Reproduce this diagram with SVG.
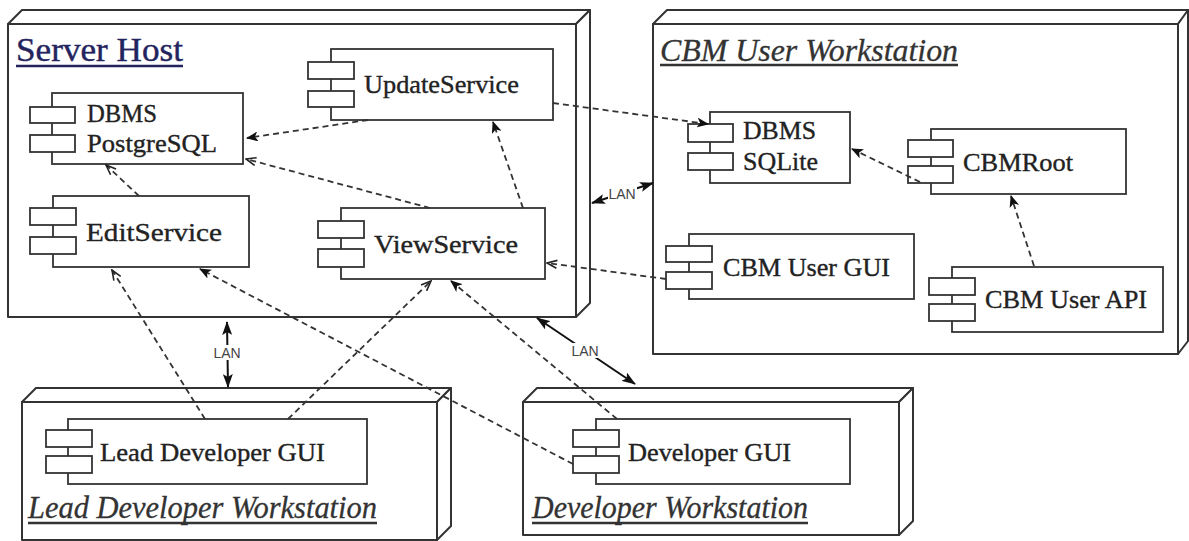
<svg xmlns="http://www.w3.org/2000/svg" width="1189" height="541" viewBox="0 0 1189 541">
<defs>
<style>
.box{fill:#fff;stroke:#333;stroke-width:2;stroke-linejoin:round}
.comp{fill:#fff;stroke:#333;stroke-width:1.8}
.lbl{font-family:"Liberation Serif","Times New Roman",serif;font-size:25px;fill:#222;stroke:#222;stroke-width:0.35}
.title{font-family:"Liberation Serif","Times New Roman",serif;font-size:31px;font-style:italic;fill:#333;stroke:#333;stroke-width:0.3}
.ul{stroke:#333;stroke-width:2.5}
.dep{fill:none;stroke:#333;stroke-width:1.8;stroke-dasharray:6 4}
.lan{fill:none;stroke:#111;stroke-width:2}
.lantxt{font-family:"Liberation Sans",Arial,sans-serif;font-size:14px;fill:#444;text-anchor:middle}
</style>
<marker id="open" viewBox="0 0 12 10" refX="11" refY="5" markerWidth="12" markerHeight="10" markerUnits="userSpaceOnUse" orient="auto">
<path d="M1,1 L11,5 L1,9" fill="none" stroke="#222" stroke-width="1.6"/>
</marker>
<marker id="classic" viewBox="0 0 12 10" refX="11" refY="5" markerWidth="12" markerHeight="10" markerUnits="userSpaceOnUse" orient="auto">
<path d="M0,0 L12,5 L0,10 L3,5 Z" fill="#111"/>
</marker>
<marker id="lanhead" viewBox="0 0 14 10" refX="13" refY="5" markerWidth="14" markerHeight="10" markerUnits="userSpaceOnUse" orient="auto-start-reverse">
<path d="M0,0 L14,5 L0,10 L3,5 Z" fill="#111"/>
</marker>
</defs>
<rect width="1189" height="541" fill="#fff"/>

<g id="server-host">
<rect class="box" x="8" y="24" width="568" height="293"/>
<path class="box" d="M8,24 L22,10 L590,10 L576,24 Z"/>
<path class="box" d="M576,24 L590,10 L590,303 L576,317 Z"/>
<text x="16" y="61" font-family="Liberation Serif,Times New Roman,serif" font-size="33" fill="#23235e" stroke="#23235e" stroke-width="0.4" textLength="167" lengthAdjust="spacingAndGlyphs">Server Host</text>
<line x1="16" y1="66" x2="183" y2="66" stroke="#23235e" stroke-width="2.5"/>
</g>

<g id="cbm-user-workstation">
<rect class="box" x="653" y="24" width="525" height="330"/>
<path class="box" d="M653,24 L667,10 L1189,10 L1178,24 Z"/>
<path class="box" d="M1178,24 L1188,10 L1188,341 L1178,354 Z"/>
<text class="title" x="660" y="61" textLength="298" lengthAdjust="spacingAndGlyphs">CBM User Workstation</text>
<line class="ul" x1="660" y1="65" x2="958" y2="65"/>
</g>

<g id="lead-developer-workstation">
<rect class="box" x="22" y="402" width="415" height="138"/>
<path class="box" d="M22,402 L36,388 L451,388 L437,402 Z"/>
<path class="box" d="M437,402 L451,388 L451,526 L437,540 Z"/>
<text class="title" x="28" y="518" textLength="349" lengthAdjust="spacingAndGlyphs">Lead Developer Workstation</text>
<line class="ul" x1="28" y1="523" x2="377" y2="523"/>
</g>

<g id="developer-workstation">
<rect class="box" x="523" y="402" width="376" height="133"/>
<path class="box" d="M523,402 L537,388 L913,388 L899,402 Z"/>
<path class="box" d="M899,402 L913,388 L913,521 L899,535 Z"/>
<text class="title" x="532" y="518" textLength="276" lengthAdjust="spacingAndGlyphs">Developer Workstation</text>
<line class="ul" x1="532" y1="523" x2="808" y2="523"/>
</g>

<g id="dbms-postgresql">
<rect class="comp" x="52" y="93" width="191" height="71"/>
<rect class="comp" x="30" y="107" width="45" height="16"/>
<rect class="comp" x="30" y="135" width="45" height="17"/>
<text class="lbl" x="87" y="122" textLength="70" lengthAdjust="spacingAndGlyphs">DBMS</text>
<text class="lbl" x="87" y="152" textLength="130" lengthAdjust="spacingAndGlyphs">PostgreSQL</text>
</g>

<g id="update-service">
<rect class="comp" x="331" y="49" width="222" height="71"/>
<rect class="comp" x="308" y="62" width="46" height="17"/>
<rect class="comp" x="308" y="91" width="46" height="16"/>
<text class="lbl" x="364" y="93" textLength="155" lengthAdjust="spacingAndGlyphs">UpdateService</text>
</g>

<g id="edit-service">
<rect class="comp" x="53" y="196" width="196" height="71"/>
<rect class="comp" x="30" y="208" width="46" height="17"/>
<rect class="comp" x="30" y="237" width="46" height="17"/>
<text class="lbl" x="86" y="241" textLength="136" lengthAdjust="spacingAndGlyphs">EditService</text>
</g>

<g id="view-service">
<rect class="comp" x="341" y="208" width="204" height="71"/>
<rect class="comp" x="318" y="221" width="46" height="17"/>
<rect class="comp" x="318" y="249" width="46" height="18"/>
<text class="lbl" x="374" y="253" textLength="144" lengthAdjust="spacingAndGlyphs">ViewService</text>
</g>

<g id="dbms-sqlite">
<rect class="comp" x="710" y="112" width="140" height="71"/>
<rect class="comp" x="688" y="124" width="45" height="18"/>
<rect class="comp" x="688" y="153" width="45" height="17"/>
<text class="lbl" x="743" y="139" textLength="73" lengthAdjust="spacingAndGlyphs">DBMS</text>
<text class="lbl" x="743" y="170" textLength="75" lengthAdjust="spacingAndGlyphs">SQLite</text>
</g>

<g id="cbm-root">
<rect class="comp" x="931" y="129" width="195" height="65"/>
<rect class="comp" x="908" y="140" width="45" height="17"/>
<rect class="comp" x="908" y="166" width="45" height="17"/>
<text class="lbl" x="963" y="171" textLength="110" lengthAdjust="spacingAndGlyphs">CBMRoot</text>
</g>

<g id="cbm-user-gui">
<rect class="comp" x="689" y="234" width="225" height="65"/>
<rect class="comp" x="666" y="246" width="46" height="16"/>
<rect class="comp" x="666" y="272" width="46" height="17"/>
<text class="lbl" x="723" y="276" textLength="167" lengthAdjust="spacingAndGlyphs">CBM User GUI</text>
</g>

<g id="cbm-user-api">
<rect class="comp" x="952" y="267" width="211" height="65"/>
<rect class="comp" x="929" y="278" width="46" height="17"/>
<rect class="comp" x="929" y="304" width="46" height="17"/>
<text class="lbl" x="985" y="308" textLength="162" lengthAdjust="spacingAndGlyphs">CBM User API</text>
</g>

<g id="lead-developer-gui">
<rect class="comp" x="68" y="419" width="299" height="65"/>
<rect class="comp" x="46" y="430" width="46" height="17"/>
<rect class="comp" x="46" y="456" width="46" height="17"/>
<text class="lbl" x="100" y="461" textLength="225" lengthAdjust="spacingAndGlyphs">Lead Developer GUI</text>
</g>

<g id="developer-gui">
<rect class="comp" x="596" y="419" width="254" height="65"/>
<rect class="comp" x="573" y="430" width="46" height="17"/>
<rect class="comp" x="573" y="456" width="46" height="17"/>
<text class="lbl" x="628" y="461" textLength="163" lengthAdjust="spacingAndGlyphs">Developer GUI</text>
</g>

<g id="connectors">
<line class="dep" x1="368" y1="120" x2="247" y2="138" marker-end="url(#classic)"/>
<line class="dep" x1="430" y1="208" x2="246" y2="159" marker-end="url(#open)"/>
<line class="dep" x1="523" y1="208" x2="493" y2="122" marker-end="url(#classic)"/>
<line class="dep" x1="553" y1="103" x2="708" y2="124" marker-end="url(#classic)"/>
<line class="dep" x1="139" y1="196" x2="106" y2="165" marker-end="url(#open)"/>
<line class="dep" x1="920" y1="182" x2="852" y2="149" marker-end="url(#classic)"/>
<line class="dep" x1="1034" y1="266" x2="1011" y2="196" marker-end="url(#classic)"/>
<line class="dep" x1="666" y1="279" x2="547" y2="263" marker-end="url(#open)"/>
<line class="dep" x1="205" y1="419" x2="112" y2="270" marker-end="url(#open)"/>
<line class="dep" x1="288" y1="419" x2="431" y2="281" marker-end="url(#open)"/>
<line class="dep" x1="573" y1="464" x2="200" y2="269" marker-end="url(#classic)"/>
<line class="dep" x1="617" y1="419" x2="451" y2="281" marker-end="url(#classic)"/>

<line class="lan" x1="592" y1="203" x2="653" y2="183" marker-start="url(#lanhead)" marker-end="url(#lanhead)"/>
<line class="lan" x1="227" y1="322" x2="228" y2="387" marker-start="url(#lanhead)" marker-end="url(#lanhead)"/>
<line class="lan" x1="537" y1="318" x2="635" y2="384" marker-start="url(#lanhead)" marker-end="url(#lanhead)"/>
<rect x="608" y="186" width="29" height="15" fill="#fff"/>
<text class="lantxt" x="622" y="199">LAN</text>
<rect x="213" y="345" width="29" height="15" fill="#fff"/>
<text class="lantxt" x="227" y="358">LAN</text>
<rect x="571" y="343" width="29" height="15" fill="#fff"/>
<text class="lantxt" x="585" y="356">LAN</text>
</g>
</svg>
